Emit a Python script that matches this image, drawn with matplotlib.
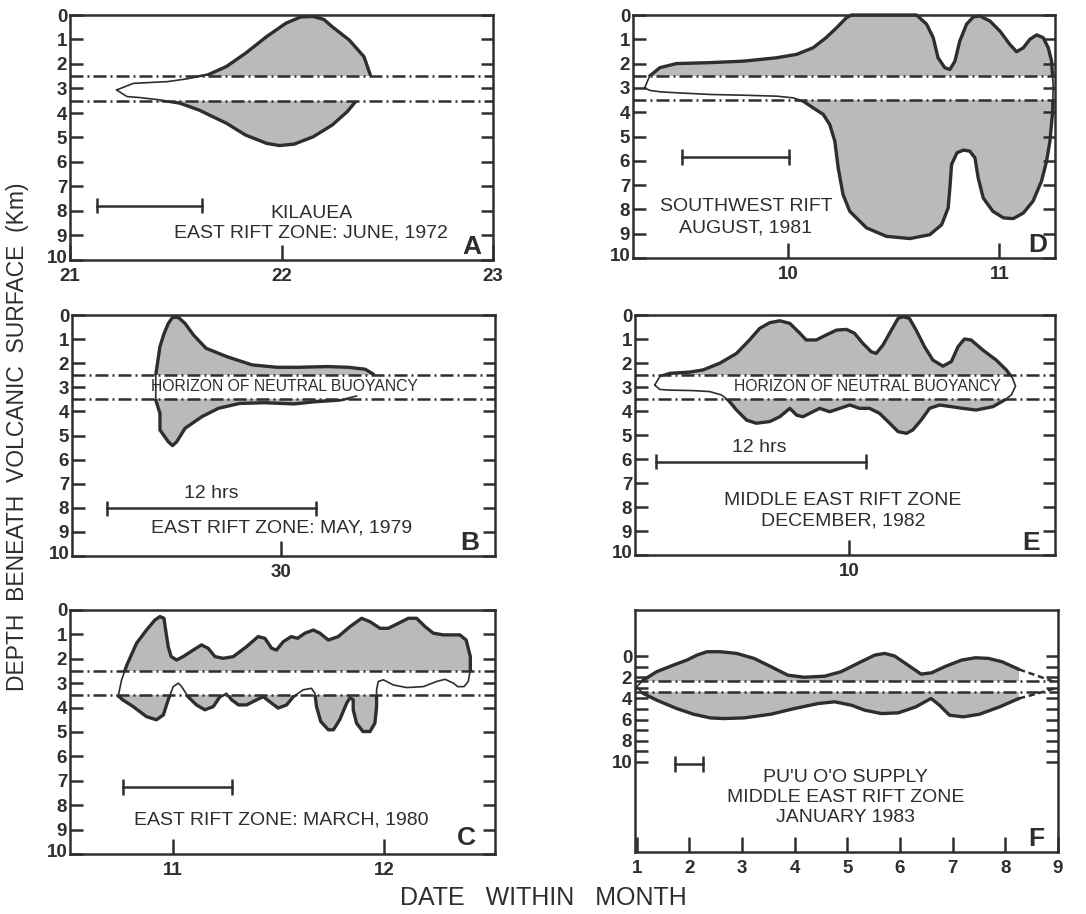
import matplotlib
matplotlib.use("Agg")
import matplotlib.pyplot as plt
import matplotlib.transforms as mtransforms
from matplotlib.patches import Polygon, Rectangle

plt.rcParams['font.family'] = ['Liberation Sans', 'DejaVu Sans']

# ---------------- data ----------------
# Panel A : Kilauea, East Rift Zone, June 1972
a_top_x = [21.22, 21.30, 21.46, 21.55, 21.65, 21.74, 21.83, 21.93, 22.02, 22.09, 22.15, 22.20, 22.24, 22.32, 22.39, 22.42]
a_top_d = [3.06, 2.79, 2.72, 2.61, 2.45, 2.10, 1.56, 0.88, 0.34, 0.08, 0.06, 0.18, 0.48, 1.02, 1.70, 2.45]
a_bot_x = [21.22, 21.27, 21.33, 21.43, 21.52, 21.61, 21.74, 21.83, 21.93, 21.99, 22.06, 22.15, 22.24, 22.31, 22.35]
a_bot_d = [3.06, 3.33, 3.37, 3.47, 3.60, 3.88, 4.42, 4.90, 5.24, 5.33, 5.27, 4.97, 4.49, 3.95, 3.54]

# Panel B : East Rift Zone, May 1979
b_top_x = [29.70, 29.70, 29.71, 29.72, 29.73, 29.74, 29.754, 29.77, 29.79, 29.82, 29.87, 29.93, 29.99, 30.04, 30.11, 30.16, 30.20, 30.22]
b_top_d = [3.00, 2.49, 1.31, 0.76, 0.35, 0.10, 0.10, 0.35, 0.83, 1.38, 1.73, 2.07, 2.17, 2.17, 2.14, 2.17, 2.25, 2.46]
b_bot_x = [29.70, 29.70, 29.71, 29.71, 29.73, 29.74, 29.75, 29.77, 29.81, 29.85, 29.90, 29.96, 30.03, 30.08, 30.14, 30.18]
b_bot_d = [3.00, 3.53, 4.08, 4.77, 5.26, 5.42, 5.26, 4.70, 4.22, 3.87, 3.67, 3.64, 3.69, 3.60, 3.53, 3.36]

# Panel C : East Rift Zone, March 1980
c_top_x = [10.739, 10.755, 10.78, 10.826, 10.873, 10.913, 10.937, 10.956, 10.964, 10.976, 10.99, 11.016, 11.047,
           11.095, 11.134, 11.166, 11.198, 11.237, 11.285, 11.348, 11.403, 11.435, 11.467, 11.49, 11.522, 11.56,
           11.59, 11.625, 11.665, 11.696, 11.736, 11.783, 11.839, 11.894, 11.934, 11.981, 12.02, 12.068, 12.115,
           12.155, 12.195, 12.234, 12.282, 12.36, 12.39, 12.41, 12.41, 12.40, 12.38, 12.35]
c_top_d = [3.52, 2.86, 2.25, 1.36, 0.82, 0.41, 0.27, 0.34, 0.82, 1.50, 1.91, 2.05, 1.91,
           1.64, 1.43, 1.57, 1.91, 1.98, 1.91, 1.50, 1.09, 1.16, 1.57, 1.64, 1.30, 1.09,
           1.16, 0.95, 0.82, 0.95, 1.23, 1.09, 0.68, 0.34, 0.48, 0.75, 0.75, 0.55, 0.34,
           0.34, 0.68, 0.95, 1.02, 1.02, 1.23, 1.91, 2.46, 2.93, 3.14, 3.14]
c_bot_x = [10.739, 10.76, 10.81, 10.873, 10.92, 10.953, 10.976, 11.0, 11.024, 11.04, 11.07, 11.11, 11.15,
           11.19, 11.222, 11.253, 11.277, 11.31, 11.348, 11.396, 11.427, 11.467, 11.498, 11.538, 11.57, 11.617,
           11.656, 11.672, 11.68, 11.70, 11.736, 11.76, 11.79, 11.823, 11.839, 11.854, 11.854, 11.87, 11.90,
           11.934, 11.957, 11.965, 11.965, 11.973, 11.997, 12.044, 12.108, 12.187, 12.25, 12.29, 12.33, 12.35]
c_bot_d = [3.52, 3.68, 3.96, 4.37, 4.50, 4.30, 3.68, 3.14, 3.00, 3.14, 3.55, 3.89, 4.09,
           3.96, 3.55, 3.41, 3.68, 3.89, 3.89, 3.68, 3.55, 3.82, 4.02, 3.89, 3.55, 3.27,
           3.21, 3.41, 3.96, 4.57, 4.91, 4.91, 4.50, 3.82, 3.60, 3.68, 4.09, 4.64, 4.98,
           4.98, 4.64, 3.96, 3.27, 2.93, 2.86, 3.07, 3.18, 3.14, 2.93, 2.84, 3.00, 3.14]

# Panel D : Southwest Rift, August 1981
d_top_x = [9.32, 9.344, 9.392, 9.47, 9.63, 9.787, 9.945, 10.04, 10.118, 10.18, 10.23, 10.276, 10.30, 10.608,
           10.656, 10.687, 10.71, 10.742, 10.766, 10.79, 10.813, 10.845, 10.877, 10.908, 10.956, 11.003,
           11.05, 11.082, 11.114, 11.145, 11.177, 11.208, 11.232, 11.248, 11.255, 11.255]
d_top_d = [3.00, 2.51, 2.17, 2.00, 1.96, 1.90, 1.76, 1.62, 1.35, 0.93, 0.52, 0.11, 0.00, 0.00,
           0.38, 0.93, 1.76, 2.17, 2.24, 1.90, 1.07, 0.38, 0.08, 0.04, 0.25, 0.66,
           1.21, 1.51, 1.35, 1.00, 0.82, 0.93, 1.35, 1.90, 2.86, 3.00]
d_bot_x = [9.32, 9.344, 9.392, 9.47, 9.63, 9.787, 9.945, 10.024, 10.07, 10.118, 10.166, 10.197, 10.221,
           10.237, 10.26, 10.292, 10.371, 10.466, 10.577, 10.671, 10.727, 10.758, 10.766, 10.774, 10.80,
           10.83, 10.86, 10.885, 10.90, 10.924, 10.97, 11.02, 11.066, 11.114, 11.16, 11.20, 11.224, 11.24,
           11.253, 11.255]
d_bot_d = [3.00, 3.10, 3.16, 3.20, 3.27, 3.30, 3.34, 3.41, 3.54, 3.82, 4.09, 4.51, 5.19,
           6.29, 7.39, 8.08, 8.76, 9.11, 9.20, 9.04, 8.63, 7.94, 7.12, 6.15, 5.67,
           5.56, 5.60, 5.88, 6.70, 7.53, 8.08, 8.35, 8.38, 8.15, 7.66, 6.84, 6.02, 5.19,
           3.96, 3.00]

# Panel E : Middle East Rift Zone, December 1982
e_top_x = [9.537, 9.549, 9.573, 9.62, 9.652, 9.692, 9.732, 9.763, 9.787, 9.811, 9.835, 9.859, 9.883, 9.898,
           9.922, 9.946, 9.97, 9.994, 10.013, 10.033, 10.053, 10.065, 10.081, 10.101, 10.117, 10.129, 10.144,
           10.16, 10.18, 10.20, 10.224, 10.244, 10.26, 10.275, 10.291, 10.319, 10.351, 10.375, 10.39, 10.397]
e_top_d = [2.92, 2.57, 2.43, 2.38, 2.29, 2.01, 1.60, 1.04, 0.56, 0.32, 0.24, 0.35, 0.76, 1.04,
           1.04, 0.83, 0.63, 0.60, 0.76, 1.18, 1.53, 1.60, 1.25, 0.63, 0.14, 0.07, 0.14,
           0.63, 1.32, 1.88, 2.13, 1.94, 1.32, 1.00, 1.04, 1.46, 1.88, 2.29, 2.64, 2.96]
e_bot_x = [9.537, 9.549, 9.573, 9.629, 9.668, 9.696, 9.712, 9.732, 9.756, 9.779, 9.811, 9.835, 9.859, 9.875,
           9.89, 9.906, 9.93, 9.954, 9.978, 10.002, 10.025, 10.049, 10.073, 10.097, 10.117, 10.137, 10.152,
           10.172, 10.192, 10.216, 10.244, 10.271, 10.303, 10.343, 10.371, 10.387, 10.397]
e_bot_d = [2.92, 3.10, 3.13, 3.15, 3.19, 3.33, 3.54, 3.96, 4.38, 4.51, 4.44, 4.24, 3.89, 4.17,
           4.24, 4.10, 3.89, 4.03, 3.89, 3.75, 3.89, 3.89, 4.10, 4.51, 4.86, 4.93, 4.79,
           4.38, 3.89, 3.75, 3.82, 3.89, 3.96, 3.82, 3.54, 3.33, 2.96]

# Panel F : Pu'u O'o supply, Middle East Rift Zone, January 1983
f_top_x = [1.0, 1.127, 1.38, 1.70, 1.955, 2.146, 2.337, 2.59, 2.90, 3.23, 3.55, 3.87, 4.18, 4.57, 4.88,
           5.26, 5.52, 5.71, 5.90, 6.15, 6.40, 6.60, 6.85, 7.17, 7.43, 7.68, 7.94, 8.26]
f_top_d = [2.90, 2.27, 1.48, 0.85, 0.38, -0.09, -0.41, -0.41, -0.25, 0.22, 1.00, 1.80, 2.00, 1.90, 1.48,
           0.54, -0.09, -0.25, 0.00, 0.85, 1.70, 1.58, 1.00, 0.38, 0.16, 0.22, 0.54, 1.26]
f_bot_x = [1.0, 1.127, 1.38, 1.76, 2.08, 2.40, 2.66, 3.04, 3.55, 4.00, 4.45, 4.76, 5.08, 5.33, 5.65,
           5.97, 6.30, 6.59, 6.75, 6.94, 7.20, 7.51, 7.89, 8.26]
f_bot_d = [2.90, 3.53, 4.16, 4.95, 5.49, 5.84, 5.90, 5.84, 5.49, 4.95, 4.48, 4.32, 4.64, 5.11, 5.43,
           5.36, 4.80, 4.00, 4.64, 5.58, 5.74, 5.49, 4.80, 4.00]
f_dash_top_x = [8.26, 8.60, 8.94]
f_dash_top_d = [1.26, 1.85, 2.45]
f_dash_bot_x = [8.26, 8.60, 8.94]
f_dash_bot_d = [4.00, 3.55, 3.05]

# tick labels
depth_ticks = list(range(0, 11))
depth_labels = [str(v) for v in depth_ticks]
f_depth_labels = [str(v) if v % 2 == 0 else '' for v in depth_ticks]
a_days = [21, 22, 23]
b_days = [30]
c_days = [11, 12]
d_days = [10, 11]
e_days = [10]
f_days = list(range(1, 10))

# ---------------- drawing ----------------
W, H = 1086, 914
fig = plt.figure(figsize=(W / 100, H / 100), dpi=100)
fig.patch.set_facecolor('white')

INK = '#2e2e2e'
FILL = '#bababa'
LW = 1.8


def make_ax(l, t, w, h):
    return fig.add_axes([l / W, 1 - (t + h) / H, w / W, h / H])


def style_ax(ax, xlim, ylim, days, ylabels, right_ticks=True):
    ax.set_xlim(*xlim)
    ax.set_ylim(*ylim)
    ax.set_axisbelow(False)
    for s in ax.spines.values():
        s.set_linewidth(LW)
        s.set_color(INK)
        s.set_zorder(4)
    ax.set_yticks(depth_ticks)
    ax.set_yticklabels(ylabels)
    ax.set_xticks(days)
    ax.set_xticklabels([str(d) for d in days])
    ax.tick_params(axis='y', direction='in', length=9, width=LW, color=INK,
                   left=True, right=right_ticks, pad=2, labelsize=13.5)
    ax.tick_params(axis='x', direction='in', length=11, width=LW, color=INK,
                   bottom=True, top=False, pad=5.5, labelsize=13.5)
    for lab in ax.get_xticklabels() + ax.get_yticklabels():
        lab.set_fontweight('bold')
        lab.set_color(INK)
    if max(ylim) == 10:
        # lift the bottom depth label a little, as in the original drawing
        lab = ax.get_yticklabels()[-1]
        lab.set_transform(lab.get_transform() +
                          mtransforms.ScaledTranslation(0, 2.5 / 72, fig.dpi_scale_trans))


def draw_blob(ax, tx, td, bx, bd, band, close_right):
    xs = list(tx) + list(bx[::-1])
    ds = list(td) + list(bd[::-1])
    poly = Polygon(list(zip(xs, ds)), closed=True, facecolor=FILL, edgecolor='none', zorder=1)
    ax.add_patch(poly)
    ax.axhspan(band[0], band[1], color='white', zorder=1.5, lw=0)
    for y in band:
        ax.axhline(y, color=INK, lw=LW, linestyle=(0, (5.2, 1.6, 0.8, 1.6)), zorder=2)
    if close_right:
        curves = [(xs + [xs[0]], ds + [ds[0]])]
    else:
        curves = [(list(tx), list(td)), (list(bx), list(bd))]
    x0, x1 = ax.get_xlim()
    y0, y1 = sorted(ax.get_ylim())
    for cx, cd in curves:
        ax.plot(cx, cd, color=INK, lw=1.2, zorder=3, solid_joinstyle='round', solid_capstyle='round')
        for (lo, hi) in [(y0 - 1, band[0]), (band[1], y1 + 1)]:
            ln, = ax.plot(cx, cd, color=INK, lw=2.4, zorder=3, solid_joinstyle='round',
                          solid_capstyle='round')
            ln.set_clip_path(Rectangle((x0 - 1, lo), x1 - x0 + 2, hi - lo, transform=ax.transData))


def scale_bar(ax, x0, x1, y, cap=0.32):
    ax.plot([x0, x1], [y, y], color=INK, lw=LW, zorder=3)
    for x in (x0, x1):
        ax.plot([x, x], [y - cap, y + cap], color=INK, lw=LW, zorder=3, solid_capstyle='butt')


TXT = dict(ha='center', va='center', color=INK, fontsize=14, zorder=5)
LET = dict(ha='center', va='center', color=INK, fontsize=19, fontweight='bold', zorder=5)
HOR = dict(ha='center', va='center', color=INK, fontsize=11.3, zorder=5)

# ---- A ----
ax = make_ax(70, 15, 423, 245)
style_ax(ax, (21, 23), (10, 0), a_days, depth_labels)
draw_blob(ax, a_top_x, a_top_d, a_bot_x, a_bot_d, (2.5, 3.5), False)
scale_bar(ax, 21.126, 21.625, 7.78)
ax.text(22.14, 8.1, 'KILAUEA', **TXT)
ax.text(22.14, 8.9, 'EAST RIFT ZONE: JUNE, 1972', **TXT)
ax.text(22.9, 9.46, 'A', **LET)

# ---- D ----
ax = make_ax(633, 15, 422, 243)
style_ax(ax, (9.265, 11.264), (10, 0), d_days, depth_labels)
draw_blob(ax, d_top_x, d_top_d, d_bot_x, d_bot_d, (2.5, 3.5), True)
scale_bar(ax, 9.499, 10.003, 5.84)
ax.text(9.80, 7.87, 'SOUTHWEST RIFT', **TXT)
ax.text(9.80, 8.76, 'AUGUST, 1981', **TXT)
ax.text(11.18, 9.45, 'D', **LET)

# ---- B ----
ax = make_ax(72, 315, 423, 241)
style_ax(ax, (29.5, 30.51), (10, 0), b_days, depth_labels)
draw_blob(ax, b_top_x, b_top_d, b_bot_x, b_bot_d, (2.5, 3.5), False)
ax.text(30.008, 2.95, 'HORIZON OF NEUTRAL BUOYANCY', **HOR)
scale_bar(ax, 29.583, 30.083, 8.02)
ax.text(29.833, 7.42, '12 hrs', **TXT)
ax.text(30.0, 8.85, 'EAST RIFT ZONE: MAY, 1979', **TXT)
ax.text(30.45, 9.47, 'B', **LET)

# ---- E ----
ax = make_ax(635, 315, 420, 240)
style_ax(ax, (9.49, 10.491), (10, 0), e_days, depth_labels)
draw_blob(ax, e_top_x, e_top_d, e_bot_x, e_bot_d, (2.5, 3.5), True)
ax.text(10.045, 2.96, 'HORIZON OF NEUTRAL BUOYANCY', **HOR)
scale_bar(ax, 9.541, 10.041, 6.11)
ax.text(9.786, 5.52, '12 hrs', **TXT)
ax.text(9.986, 7.74, 'MIDDLE EAST RIFT ZONE', **TXT)
ax.text(9.986, 8.57, 'DECEMBER, 1982', **TXT)
ax.text(10.434, 9.51, 'E', **LET)

# ---- C ----
ax = make_ax(70, 610, 425, 244)
style_ax(ax, (10.51, 12.527), (10, 0), c_days, depth_labels)
draw_blob(ax, c_top_x, c_top_d, c_bot_x, c_bot_d, (2.5, 3.5), True)
scale_bar(ax, 10.76, 11.277, 7.26)
ax.text(11.514, 8.6, 'EAST RIFT ZONE: MARCH, 1980', **TXT)
ax.text(12.39, 9.35, 'C', **LET)

# ---- F ----
ax = make_ax(635, 610, 423, 242)
style_ax(ax, (0.97, 9.0), (18.5, -4.35), f_days, f_depth_labels)
draw_blob(ax, f_top_x, f_top_d, f_bot_x, f_bot_d, (2.35, 3.4), False)
ax.plot(f_dash_top_x, f_dash_top_d, color=INK, lw=1.8, linestyle=(0, (2.5, 1.5)), zorder=3)
ax.plot(f_dash_bot_x, f_dash_bot_d, color=INK, lw=1.8, linestyle=(0, (2.5, 1.5)), zorder=3)
scale_bar(ax, 1.72, 2.26, 10.22, cap=0.75)
ax.text(4.97, 11.42, "PU'U O'O SUPPLY", **TXT)
ax.text(4.97, 13.38, 'MIDDLE EAST RIFT ZONE', **TXT)
ax.text(4.97, 15.2, 'JANUARY 1983', **TXT)
ax.text(8.59, 17.26, 'F', **LET)

# ---- shared labels ----
fig.text(18 / W, 1 - 437 / H, 'DEPTH  BENEATH  VOLCANIC  SURFACE  (Km)', rotation=90,
         ha='center', va='center', fontsize=16.5, color=INK)
fig.text(543 / W, 1 - 898 / H, 'DATE   WITHIN   MONTH', ha='center', va='center',
         fontsize=18, color=INK)

fig.savefig('out.png', dpi=100, facecolor='white')
